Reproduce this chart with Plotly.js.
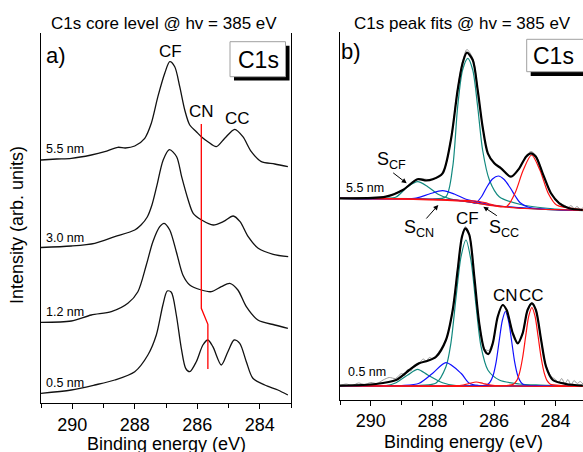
<!DOCTYPE html>
<html><head><meta charset="utf-8">
<script src="https://cdn.plot.ly/plotly-3.0.1.min.js"></script>
<style>html,body{margin:0;padding:0;background:#fff}#plot{width:583px;height:452px}</style>
</head><body><div id="plot"></div>
<script>
// ---------- Panel a) : C1s core level spectra (binding energy eV, intensity arb.) ----------
const spec55X = [291.0, 290.5, 290.03, 289.39, 288.96, 288.54, 288.3, 288.0, 287.68, 287.47, 287.26, 287.04, 286.88, 286.72, 286.56, 286.40, 286.24, 286.03, 285.87, 285.66, 285.39, 285.12, 284.80, 284.54, 284.27, 283.95, 283.52, 283.10];
const spec55Y = [243, 244, 244.7, 248, 251.3, 255.7, 255, 257, 264.7, 279.7, 306.3, 329.7, 341.3, 336.3, 316.3, 293, 278, 271.3, 266.3, 261.3, 256.3, 264.7, 273.7, 266.3, 251.3, 241.3, 239, 236.3];
const spec30X = [291.0, 290.03, 289.28, 288.64, 288.0, 287.8, 287.6, 287.45, 287.30, 287.09, 286.89, 286.66, 286.50, 286.29, 286.13, 285.86, 285.49, 285.17, 284.85, 284.63, 284.37, 284.05, 283.57, 283.09];
const spec30Y = [155.5, 157, 159.7, 166.3, 173, 178, 186, 198, 216.3, 243, 253.3, 246.3, 226.3, 203, 189.7, 183, 178, 181.3, 187, 181.3, 166.3, 154.7, 148.7, 146.3];
const spec12X = [291.0, 290.03, 289.39, 288.75, 288.22, 287.90, 287.63, 287.42, 287.20, 287.06, 286.88, 286.67, 286.46, 286.24, 285.87, 285.55, 285.23, 284.96, 284.70, 284.43, 284.06, 283.52, 283.10];
const spec12Y = [80.7, 82, 88, 91.3, 99.7, 111.3, 138, 161.3, 176.3, 179.7, 173, 151.3, 128, 118, 113, 111.3, 116.3, 119.7, 113, 96.3, 83, 78, 74.7];
const spec05X = [291.0, 290.03, 289.28, 288.64, 288.0, 287.58, 287.31, 287.10, 286.96, 286.83, 286.67, 286.51, 286.37, 286.24, 286.03, 285.82, 285.66, 285.50, 285.23, 285.02, 284.82, 284.64, 284.43, 284.22, 283.84, 283.42, 283.10];
const spec05Y = [9.7, 13, 18, 23, 31.3, 48, 68, 98, 112, 110.7, 88, 54.7, 34.7, 31.3, 41.3, 58, 63, 56.3, 38, 51.3, 63, 59.7, 41.3, 24.7, 18, 13, 8];
const cnGuideX = [285.87, 285.87, 285.66, 285.66];
const cnGuideY = [279, 94.7, 78.7, 34];
const thicknessLabels = ["5.5 nm", "3.0 nm", "1.2 nm", "0.5 nm"];

// ---------- Panel b) : peak fits ----------
// 5.5 nm
const rawTopX = [291.0, 290.5, 290.0, 289.5, 289.0, 288.5, 288.0, 287.67, 287.4, 287.18, 287.02, 286.88, 286.69, 286.53, 286.37, 286.2, 285.99, 285.77, 285.45, 285.18, 284.96, 284.80, 284.64, 284.42, 284.15, 283.88, 283.7, 283.6, 283.5, 283.4, 283.3, 283.2, 283.1];
const rawTopY = [201.5, 201, 202, 203, 209, 220.5, 220, 226, 260, 311, 338, 350, 341, 310, 273, 246, 237, 231, 223, 231.5, 243.5, 248, 244, 226.5, 206, 197, 194, 192, 194, 191, 193, 190, 192];
const fitTopX = [291.02, 289.51, 288.96, 288.48, 288.2, 287.99, 287.67, 287.40, 287.18, 287.02, 286.88, 286.69, 286.53, 286.37, 286.20, 285.99, 285.77, 285.45, 285.18, 284.96, 284.80, 284.64, 284.42, 284.15, 283.88, 283.56, 283.12];
const fitTopY = [201.2, 202.8, 209.5, 220.2, 219, 220.2, 226.2, 259.5, 309.5, 336.2, 346.8, 339.5, 309.5, 272.8, 246.2, 236.2, 231.2, 222.8, 231.2, 242.8, 246.2, 242.8, 226.2, 206.2, 196.2, 191.2, 189.5];
const sCfTopX = [291.0, 289.5, 289.18, 288.80, 288.48, 288.15, 287.83, 287.45, 287.0, 286.0, 285.0, 284.0, 283.1];
const sCfTopY = [201.2, 201.2, 202.5, 212.8, 217.8, 212.8, 205.5, 200.8, 198.3, 194, 191.3, 189.6, 189];
const cfTopX = [291.0, 288.5, 288.0, 287.56, 287.34, 287.18, 287.02, 286.85, 286.69, 286.53, 286.37, 286.15, 285.83, 285.07, 284.0, 283.1];
const cfTopY = [201.2, 201, 200.5, 202.8, 232.8, 292.8, 329.5, 341.2, 329.5, 292.8, 249.5, 219.5, 202.8, 194.5, 190.5, 188.8];
const sCnTopX = [291.0, 288.53, 288.10, 287.67, 287.29, 286.91, 286.58, 286.0, 285.0, 284.0, 283.1];
const sCnTopY = [201.2, 201.5, 205.5, 208.8, 205.5, 200.2, 197.8, 194, 191.5, 190, 189.2];
const cnTopX = [291.0, 287.5, 286.8, 286.6, 286.4, 286.24, 286.05, 285.86, 285.67, 285.48, 285.3, 285.16, 284.9, 284.5, 283.1];
const cnTopY = [201.2, 199.8, 197.6, 196.5, 203, 212, 220.5, 223.5, 220, 212, 203, 197, 192.5, 190.5, 189];
const ccTopX = [291.0, 287.0, 286.0, 285.59, 285.32, 285.05, 284.78, 284.51, 284.24, 283.97, 283.21, 283.1];
const ccTopY = [201.2, 198.3, 193.5, 193, 206.2, 229.5, 244.5, 229.5, 206.2, 194.5, 190.2, 190];
const sCcTopX = [291.0, 289.0, 288.0, 287.2, 286.8, 286.6, 286.3, 286.0, 285.5, 285.0, 284.0, 283.1];
const sCcTopY = [201.2, 201, 200.2, 199.5, 198.8, 198.5, 196.8, 194.5, 192.2, 191, 189.8, 189.2];
// 0.5 nm
const rawLowX = [291.0, 290.8, 290.6, 290.4, 290.2, 290.0, 289.8, 289.6, 289.4, 289.2, 289.0, 288.9, 288.8, 288.7, 288.6, 288.5, 288.4, 288.3, 288.2, 288.1, 288.0, 287.88, 287.56, 287.34, 287.18, 287.04, 286.93, 286.80, 286.64, 286.48, 286.31, 286.18, 286.04, 285.88, 285.72, 285.59, 285.39, 285.23, 285.07, 284.91, 284.77, 284.64, 284.47, 284.31, 284.2, 284.1, 284.0, 283.9, 283.8, 283.7, 283.6, 283.5, 283.4, 283.3, 283.2, 283.1];
const rawLowY = [14, 15.5, 14, 16.5, 15, 17, 16, 19.5, 22, 21, 26, 24, 30, 28.5, 34, 36, 37.5, 40.5, 38.5, 42, 41, 44, 60, 89, 130, 163, 173, 165, 123, 77, 51, 49, 57, 83, 95, 90, 67, 57, 67, 90, 97, 90, 60, 34, 26, 22, 20, 17, 21, 15.5, 20, 14.5, 19, 16, 18, 15];
const fitLowX = [291.02, 289.83, 289.18, 288.75, 288.43, 288.15, 287.88, 287.56, 287.34, 287.18, 287.04, 286.93, 286.80, 286.64, 286.48, 286.31, 286.18, 286.04, 285.88, 285.72, 285.59, 285.39, 285.23, 285.07, 284.91, 284.77, 284.64, 284.47, 284.31, 284.09, 283.66, 283.12];
const fitLowY = [13.8, 15.5, 19.5, 29.5, 36.2, 38.8, 42.8, 59.5, 89.5, 129.5, 162.8, 171.2, 164.5, 122.8, 76.2, 49.5, 45.5, 56.2, 82.8, 94.5, 89.5, 66.2, 56.2, 66.2, 89.5, 96.2, 89.5, 59.5, 32.8, 19.5, 15.5, 13.8];
const bgLowX = [291.0, 283.1];
const bgLowY = [13.8, 13];
const sCfLowX = [291.0, 289.5, 289.18, 288.80, 288.48, 288.15, 287.67, 287.23, 286.5, 283.1];
const sCfLowY = [13.8, 14, 16.8, 24.5, 30.2, 24.5, 16.8, 14, 13.8, 13];
const cfLowX = [291.0, 288.4, 287.88, 287.56, 287.40, 287.23, 287.07, 286.91, 286.75, 286.58, 286.42, 286.20, 285.83, 285.18, 284.5, 283.1];
const cfLowY = [13.8, 14.2, 16.5, 32.8, 56.2, 102.8, 142.8, 159.5, 139.5, 92.8, 52.8, 29.5, 19.5, 15.5, 14.5, 13.8];
const sCnLowX = [291.0, 289.0, 288.43, 287.99, 287.56, 287.07, 286.80, 286.5, 286.0, 283.1];
const sCnLowY = [13.8, 14, 16.2, 26.2, 36.8, 26.2, 16.2, 14, 13.8, 13];
const cnLowX = [291.0, 286.5, 286.23, 286.13, 286.03, 285.93, 285.83, 285.73, 285.63, 285.53, 285.43, 285.33, 285.23, 285.13, 285.03, 284.7, 283.1];
const cnLowY = [13.8, 13.9, 14.8, 17.3, 24, 37.7, 59, 79, 88, 79, 59, 37.7, 24, 17.3, 14.8, 13.9, 13];
const ccLowX = [291.0, 285.6, 285.37, 285.27, 285.17, 285.07, 284.97, 284.87, 284.77, 284.67, 284.57, 284.47, 284.37, 284.27, 284.17, 283.8, 283.1];
const ccLowY = [13.8, 13.9, 15.3, 18.6, 26.7, 42, 63.5, 83.6, 92, 83.6, 63.5, 42, 26.7, 18.6, 15.3, 14, 13];
const sCcLowX = [291.0, 287.3, 287.0, 286.8, 286.58, 286.35, 286.1, 285.8, 283.1];
const sCcLowY = [13.8, 13.8, 14.5, 16, 17.5, 16, 14.5, 13.8, 13];

const tickVals = [290, 288, 286, 284];
const tickText = ["290", "288", "286", "284"];

// ---------- drawing ----------
const W = 583, H = 452;
const P = v => v / W;          // pixel x -> paper
const Q = v => 1 - v / H;      // pixel y -> paper
const FONT = "Liberation Sans, Arial, sans-serif";
const TEAL = "#12897f", BLUE = "#1010ff", RED = "#ff1010", GRAY = "#9a9a9a";

function line(x, y, color, width, xa, ya, shape) {
  return {x: x, y: y, type: "scatter", mode: "lines", xaxis: xa, yaxis: ya,
    line: {color: color, width: width, shape: shape || "spline", smoothing: 0.8},
    hoverinfo: "skip", showlegend: false};
}

const traces = [
  line(spec55X, spec55Y, "#111", 1.3, "x", "y"),
  line(spec30X, spec30Y, "#111", 1.3, "x", "y"),
  line(spec12X, spec12Y, "#111", 1.3, "x", "y"),
  line(spec05X, spec05Y, "#111", 1.3, "x", "y"),
  line(cnGuideX, cnGuideY, "#ff0000", 1.3, "x", "y", "linear"),

  line(rawTopX, rawTopY, GRAY, 1, "x2", "y2"),
  line(sCfTopX, sCfTopY, TEAL, 1.2, "x2", "y2"),
  line(cfTopX, cfTopY, TEAL, 1.2, "x2", "y2"),
  line(sCnTopX, sCnTopY, BLUE, 1.2, "x2", "y2"),
  line(cnTopX, cnTopY, BLUE, 1.2, "x2", "y2"),
  line(sCcTopX, sCcTopY, RED, 1.2, "x2", "y2"),
  line(ccTopX, ccTopY, RED, 1.2, "x2", "y2"),
  line(fitTopX, fitTopY, "#000", 2.2, "x2", "y2"),

  line(rawLowX, rawLowY, GRAY, 1, "x2", "y2"),
  line(bgLowX, bgLowY, "#777", 1, "x2", "y2", "linear"),
  line(sCfLowX, sCfLowY, TEAL, 1.2, "x2", "y2"),
  line(cfLowX, cfLowY, TEAL, 1.2, "x2", "y2"),
  line(sCnLowX, sCnLowY, BLUE, 1.2, "x2", "y2"),
  line(cnLowX, cnLowY, BLUE, 1.2, "x2", "y2"),
  line(sCcLowX, sCcLowY, RED, 1.2, "x2", "y2"),
  line(ccLowX, ccLowY, RED, 1.2, "x2", "y2"),
  line(fitLowX, fitLowY, "#000", 2.2, "x2", "y2")
];

const rightEnd = 291 - (583 - 340) / 30.8;
function xBottom(domain, range) {
  return {domain: domain, range: range, showgrid: false, zeroline: false,
    showline: true, linecolor: "#000", linewidth: 1.2,
    ticks: "outside", ticklen: 5, tickwidth: 1, tickcolor: "#000",
    tickvals: tickVals, ticktext: tickText,
    tickfont: {family: FONT, size: 18, color: "#000"},
    minor: {ticks: "outside", ticklen: 4, dtick: 1, tick0: 283, tickcolor: "#000"},
    fixedrange: true};
}
function xTop(over, range) {
  return {overlaying: over, side: "top", range: range, showgrid: false, zeroline: false,
    showline: true, linecolor: "#000", linewidth: 1.2,
    ticks: "inside", ticklen: 5, tickcolor: "#000", dtick: 1, tick0: 283,
    showticklabels: false, fixedrange: true};
}

const layout = {
  width: W, height: H, margin: {l: 0, r: 0, t: 0, b: 0},
  paper_bgcolor: "#fff", plot_bgcolor: "#fff", showlegend: false,
  font: {family: FONT, color: "#000"},
  xaxis: Object.assign(xBottom([41 / W, 291 / W], [291, 283]), {anchor: "y"}),
  xaxis3: Object.assign(xTop("x", [291, 283]), {anchor: "y"}),
  yaxis: {domain: [Q(403), Q(33)], range: [0, 370], anchor: "x", showgrid: false, zeroline: false,
    showline: true, mirror: true, linecolor: "#000", linewidth: 1.2, ticks: "", showticklabels: false, fixedrange: true},
  xaxis2: Object.assign(xBottom([340 / W, 1], [291, rightEnd]), {anchor: "y2"}),
  xaxis4: Object.assign(xTop("x2", [291, rightEnd]), {anchor: "y2"}),
  yaxis2: {domain: [Q(399.5), Q(32)], range: [0, 367.5], anchor: "x2", showgrid: false, zeroline: false,
    showline: true, linecolor: "#000", linewidth: 1.2, ticks: "", showticklabels: false, fixedrange: true},
  shapes: [
    {type: "rect", xref: "paper", yref: "paper", x0: P(234), x1: P(289.5), y0: Q(80.5), y1: Q(45.7), fillcolor: "#000", line: {width: 0}},
    {type: "rect", xref: "paper", yref: "paper", x0: P(230), x1: P(285.5), y0: Q(76.7), y1: Q(41.7), fillcolor: "#fff", line: {color: "#a0a0a0", width: 1}},
    {type: "rect", xref: "paper", yref: "paper", x0: P(530.7), x1: P(596), y0: Q(76), y1: Q(43.3), fillcolor: "#000", line: {width: 0}},
    {type: "rect", xref: "paper", yref: "paper", x0: P(526.7), x1: P(592), y0: Q(71.7), y1: Q(39.3), fillcolor: "#fff", line: {color: "#a0a0a0", width: 1}}
  ],
  annotations: []
};

function txt(text, x, y, size, opts) {
  return Object.assign({text: text, xref: "paper", yref: "paper", x: P(x), y: Q(y),
    xanchor: "center", yanchor: "middle", showarrow: false,
    font: {family: FONT, size: size, color: "#000"}}, opts || {});
}
function arrow(hx, hy, tx, ty) {
  return {text: "", xref: "paper", yref: "paper", x: P(hx), y: Q(hy), ax: tx - hx, ay: ty - hy,
    axref: "pixel", ayref: "pixel", showarrow: true, arrowhead: 2, arrowsize: 1, arrowwidth: 1, arrowcolor: "#000"};
}

layout.annotations.push(
  txt("C1s core level @ hv = 385 eV", 164, 23, 17),
  txt("C1s peak fits @ hv = 385 eV", 462, 23, 17),
  txt("Binding energy (eV)", 166, 443.5, 18),
  txt("Binding energy (eV)", 463, 442, 18),
  txt("Intensity (arb. units)", 17, 225, 18, {textangle: -90}),
  txt("a)", 56, 55, 22),
  txt("b)", 351, 52, 22),
  txt("C1s", 258, 60, 23),
  txt("C1s", 553, 56, 23),
  txt("CF", 170, 52, 17),
  txt("CN", 201, 112, 17),
  txt("CC", 237, 118, 17),
  txt(thicknessLabels[0], 44, 149, 12.5, {xanchor: "left"}),
  txt(thicknessLabels[1], 44, 238, 12.5, {xanchor: "left"}),
  txt(thicknessLabels[2], 44, 312, 12.5, {xanchor: "left"}),
  txt(thicknessLabels[3], 44, 383, 12.5, {xanchor: "left"}),
  txt(thicknessLabels[0], 344, 188, 12.5, {xanchor: "left"}),
  txt(thicknessLabels[3], 346, 372, 12.5, {xanchor: "left"}),
  txt("S<sub>CF</sub>", 375, 160, 18, {xanchor: "left"}),
  txt("S<sub>CN</sub>", 402, 228, 18, {xanchor: "left"}),
  txt("S<sub>CC</sub>", 487, 229, 18, {xanchor: "left"}),
  txt("CF", 467, 218.5, 17),
  txt("CN", 505, 295, 17),
  txt("CC", 531.5, 295, 17),
  arrow(406.7, 183.3, 391.7, 171.7),
  arrow(438.3, 205, 425, 220),
  arrow(483.3, 206.7, 498.3, 216.7)
);

Plotly.newPlot("plot", traces, layout, {staticPlot: true, displayModeBar: false});
</script>
</body></html>
